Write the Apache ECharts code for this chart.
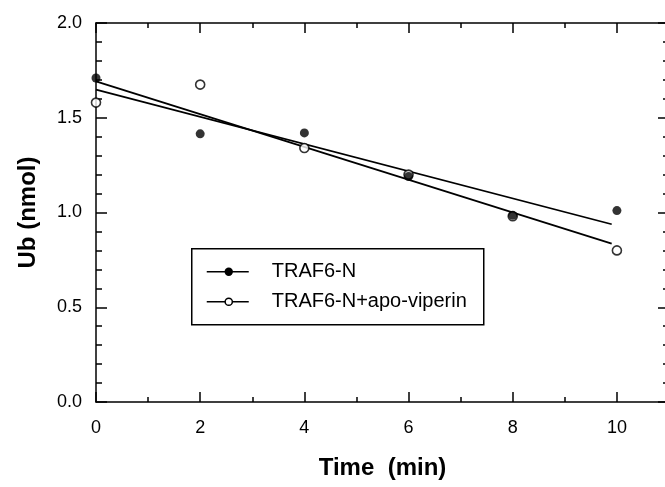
<!DOCTYPE html>
<html>
<head>
<meta charset="UTF-8">
<title>Ub</title>
<script src="https://cdn.jsdelivr.net/npm/echarts@6/dist/echarts.min.js"></script>
<style type="text/css">
html, body {
	width: 100%;
	height: 100%;
	padding: 0px;
	margin: 0px;
	background: #fff;
}
</style>
</head>
<body>
	<div id="chart" style="width: 665px; height: 487px;"></div>

	<script type="text/javascript">
        // data
        var times = [0, 2, 4, 6, 8, 10];
        var trafN = [1.71, 1.415, 1.42, 1.19, 0.985, 1.01];
        var trafApo = [1.58, 1.675, 1.34, 1.20, 0.98, 0.80];
        // fitted lines, end points
        var fitX = [0, 9.9];
        var fitN = [1.648, 0.938];
        var fitApo = [1.692, 0.836];
        var xTicks = [0, 2, 4, 6, 8, 10];
        var yTicks = ['0.0', '0.5', '1.0', '1.5', '2.0'];

        function pairs(xs, ys) {
            return xs.map(function (x, i) { return [x, ys[i]]; });
        }

        var FONT = 'Liberation Sans, Arial, sans-serif';
        var axisLine = { show: true, onZero: false, lineStyle: { color: '#000', width: 1.5 } };
        var tickStyle = { color: '#000', width: 1.5 };

        var myChart = echarts.init(document.getElementById('chart'));

        var option = {
            backgroundColor: '#fff',
            animation: false,
            // the right edge of the frame falls just outside the picture
            grid: { left: 96, width: 573, top: 23, bottom: 85, outerBoundsMode: 'none' },
            xAxis: [{
                type: 'value', min: 0, max: 11, interval: 2,
                position: 'bottom',
                axisLine: axisLine,
                axisTick: { inside: true, length: 10, lineStyle: tickStyle },
                minorTick: { show: true, splitNumber: 2, length: 5, lineStyle: tickStyle },
                splitLine: { show: false },
                axisLabel: {
                    color: '#000', fontFamily: FONT, fontSize: 18, margin: 17,
                    formatter: function (v) { return xTicks.indexOf(v) >= 0 ? String(v) : ''; }
                },
                name: 'Time  (min)', nameLocation: 'middle', nameGap: 54,
                nameTextStyle: { color: '#000', fontFamily: FONT, fontSize: 24, fontWeight: 'bold' }
            }, {
                type: 'value', min: 0, max: 11, interval: 2,
                position: 'top',
                axisLine: axisLine,
                axisTick: { inside: true, length: 10, lineStyle: tickStyle },
                minorTick: { show: true, splitNumber: 2, length: 5, lineStyle: tickStyle },
                splitLine: { show: false },
                axisLabel: { show: false }
            }],
            yAxis: [{
                type: 'value', min: 0, max: 2, interval: 0.5,
                position: 'left',
                axisLine: axisLine,
                axisTick: { inside: true, length: 11, lineStyle: tickStyle },
                minorTick: { show: true, splitNumber: 5, length: 6, lineStyle: tickStyle },
                splitLine: { show: false },
                axisLabel: {
                    color: '#000', fontFamily: FONT, fontSize: 18, margin: 14,
                    formatter: function (v) { return yTicks[Math.round(v * 2)]; }
                },
                name: 'Ub (nmol)', nameLocation: 'middle', nameGap: 56, nameRotate: 90,
                nameTextStyle: { color: '#000', fontFamily: FONT, fontSize: 24, fontWeight: 'bold' }
            }, {
                type: 'value', min: 0, max: 2, interval: 0.5,
                position: 'right',
                axisLine: axisLine,
                axisTick: { inside: true, length: 11, lineStyle: tickStyle },
                minorTick: { show: true, splitNumber: 5, length: 6, lineStyle: tickStyle },
                splitLine: { show: false },
                axisLabel: { show: false }
            }],
            series: [{
                name: 'TRAF6-N fit', type: 'line', data: pairs(fitX, fitN),
                symbol: 'none', lineStyle: { color: '#000', width: 1.8 }, z: 2
            }, {
                name: 'TRAF6-N+apo-viperin fit', type: 'line', data: pairs(fitX, fitApo),
                symbol: 'none', lineStyle: { color: '#000', width: 1.8 }, z: 2
            }, {
                name: 'TRAF6-N+apo-viperin', type: 'scatter', data: pairs(times, trafApo),
                symbol: 'circle', symbolSize: 9,
                itemStyle: { color: '#fff', borderColor: '#000', borderWidth: 1.6 }, z: 3
            }, {
                name: 'TRAF6-N', type: 'scatter', data: pairs(times, trafN),
                symbol: 'circle', symbolSize: 9,
                itemStyle: { color: '#000' }, z: 4
            }],
            graphic: [{
                type: 'group', left: 191, top: 248,
                children: [
                    { type: 'rect', shape: { x: 0, y: 0, width: 292, height: 76 },
                      style: { fill: '#fff', stroke: '#000', lineWidth: 1.5 } },
                    { type: 'line', shape: { x1: 15, y1: 23, x2: 57, y2: 23 }, style: { stroke: '#000', lineWidth: 1.5 } },
                    { type: 'circle', shape: { cx: 37, cy: 23, r: 4.2 }, style: { fill: '#000' } },
                    { type: 'text', style: { x: 80, y: 23, text: 'TRAF6-N', fill: '#000',
                      font: '20px ' + FONT, verticalAlign: 'middle' } },
                    { type: 'line', shape: { x1: 15, y1: 53, x2: 57, y2: 53 }, style: { stroke: '#000', lineWidth: 1.5 } },
                    { type: 'circle', shape: { cx: 37, cy: 53, r: 3.6 }, style: { fill: '#fff', stroke: '#000', lineWidth: 1.5 } },
                    { type: 'text', style: { x: 80, y: 53, text: 'TRAF6-N+apo-viperin', fill: '#000',
                      font: '20px ' + FONT, verticalAlign: 'middle' } }
                ]
            }]
        };

        myChart.setOption(option);
	</script>
</body>
</html>
